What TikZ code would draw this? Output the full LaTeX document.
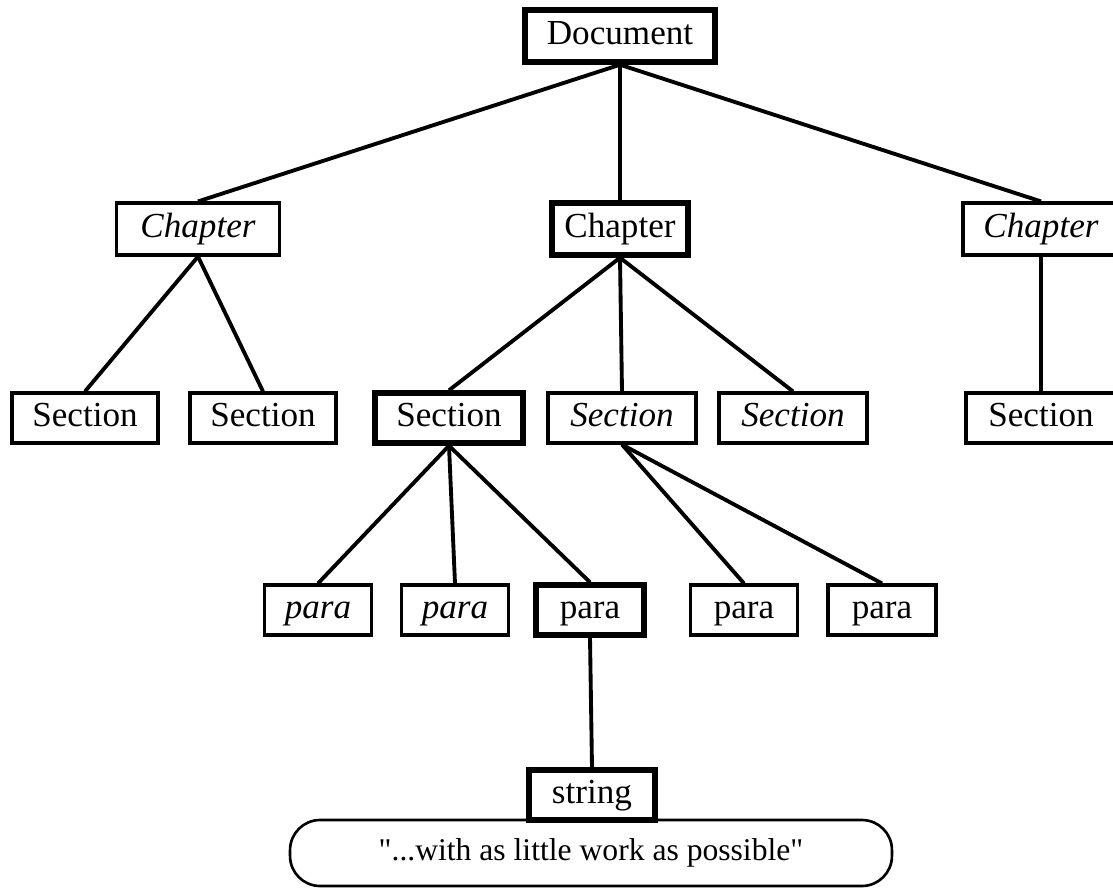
\documentclass[tikz,border=0pt]{standalone}
\usepackage{fontspec}
\setmainfont{Liberation Serif}
% same face without the TeX input mapping, so that " stays a straight quote
\newfontfamily\rawserif{Liberation Serif}[Ligatures=TeXOff]
\begin{document}
\begin{tikzpicture}[x=0.02cm,y=-0.02cm,
  box/.style={draw, line width=1.8pt, minimum height=1cm, inner sep=0pt,
    text height=14pt, text depth=4.5pt, font=\fontsize{20}{24}\selectfont},
  heavy/.style={box, line width=3.1pt},
  slant/.style={font=\fontsize{20}{24}\selectfont\itshape},
  link/.style={line width=2.2pt}]
\useasboundingbox (0,0) rectangle (1113,890);
% root
\node[heavy, minimum width=3.8cm, minimum height=1.04cm] (doc) at (620,36) {Document};
% chapters
\node[box, slant, minimum width=3.26cm, minimum height=1.04cm] (chA) at (198,229) {Chapter};
\node[heavy, minimum width=2.72cm, minimum height=1.04cm] (chB) at (620,229) {Chapter};
\node[box, slant, minimum width=3.12cm, minimum height=1.04cm] (chC) at (1041,229) {Chapter};
% sections
\node[box, minimum width=2.92cm] (sA) at (85,418) {Section};
\node[box, minimum width=2.92cm] (sB) at (263,418) {Section};
\node[heavy, minimum width=2.96cm] (sC) at (449,418) {Section};
\node[box, slant, minimum width=2.96cm] (sD) at (622,418) {Section};
\node[box, slant, minimum width=2.96cm] (sE) at (793,418) {Section};
\node[box, minimum width=3.0cm] (sF) at (1041,418) {Section};
% paragraphs
\node[box, slant, minimum width=2.14cm] (pA) at (318,610) {para};
\node[box, slant, minimum width=2.14cm] (pB) at (455,610) {para};
\node[heavy, minimum width=2.16cm] (pC) at (590,610) {para};
\node[box, minimum width=2.14cm] (pD) at (744,610) {para};
\node[box, minimum width=2.16cm] (pE) at (882,610) {para};
% string and its contents
\node[heavy, minimum width=2.52cm, minimum height=1.0cm] (str) at (592,795) {string};
\node[draw, line width=1.5pt, rounded corners=0.6cm, minimum width=12.04cm,
  minimum height=1.32cm, inner sep=0pt, font=\rawserif\fontsize{18}{22}\selectfont]
  (val) at (591,853) {"...with as little work as possible"};
% connectors
\draw[link] (doc.south) -- (chA.north);
\draw[link] (doc.south) -- (chB.north);
\draw[link] (doc.south) -- (chC.north);
\draw[link] (chA.south) -- (sA.north);
\draw[link] (chA.south) -- (sB.north);
\draw[link] (chB.south) -- (sC.north);
\draw[link] (chB.south) -- (sD.north);
\draw[link] (chB.south) -- (sE.north);
\draw[link] (chC.south) -- (sF.north);
\draw[link] (sC.south) -- (pA.north);
\draw[link] (sC.south) -- (pB.north);
\draw[link] (sC.south) -- (pC.north);
\draw[link] (sD.south) -- (pD.north);
\draw[link] (sD.south) -- (pE.north);
\draw[link] (pC.south) -- (str.north);
\end{tikzpicture}
\end{document}
